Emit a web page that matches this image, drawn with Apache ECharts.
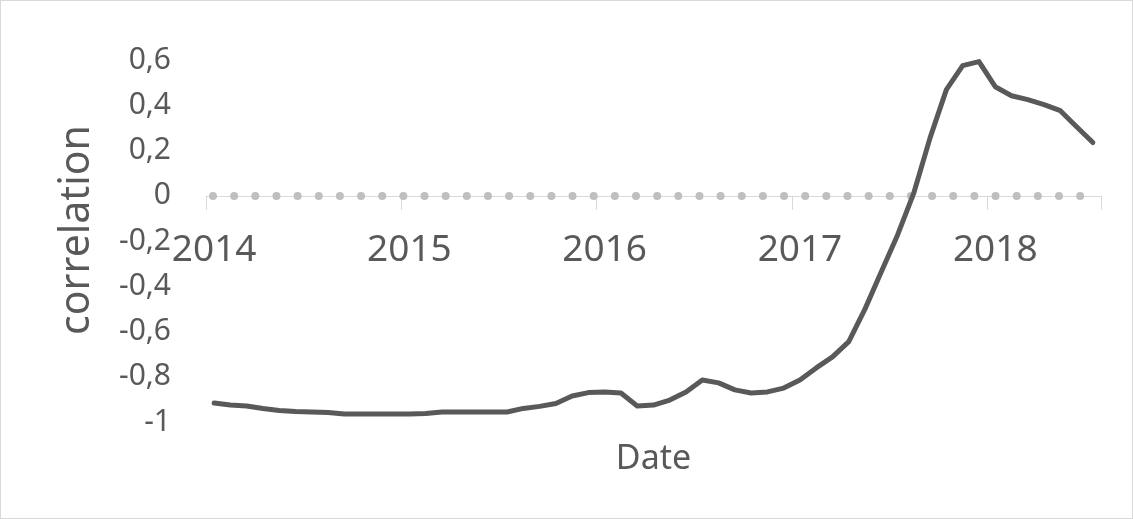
<!DOCTYPE html>
<html>
<head>
<meta charset="utf-8">
<script src="https://cdn.jsdelivr.net/npm/echarts@6/dist/echarts.min.js"></script>
<style>
html,body{margin:0;padding:0;background:#fff;}
#wrap{position:relative;width:1133px;height:519px;}
#chart{position:absolute;left:0;top:0;width:1133px;height:519px;}
#frame{position:absolute;left:0;top:0;width:1133px;height:519px;box-sizing:border-box;border:1px solid #d9d9d9;pointer-events:none;}
</style>
</head>
<body>
<div id="wrap"><div id="chart"></div><div id="frame"></div></div>
<script>
// Monthly observations, Jan 2014 .. Jul 2018
const months = [];
for (let y = 2014; y <= 2018; y++) {
  for (let m = 1; m <= 12; m++) {
    if (y === 2018 && m > 7) break;
    months.push(y + '-' + (m < 10 ? '0' + m : m));
  }
}
const correlation = [
  -0.916, -0.925, -0.929, -0.940, -0.949, -0.954, -0.956, -0.958, -0.965, -0.965, -0.965, -0.965,
  -0.965, -0.962, -0.956, -0.956, -0.956, -0.956, -0.956, -0.940, -0.931, -0.918, -0.885, -0.870,
  -0.867, -0.872, -0.929, -0.925, -0.903, -0.867, -0.814, -0.827, -0.858, -0.872, -0.867, -0.850,
  -0.814, -0.761, -0.712, -0.645, -0.500, -0.336, -0.173, 0.013, 0.257, 0.469, 0.575, 0.593,
  0.482, 0.442, 0.425, 0.403, 0.376, 0.305, 0.235
];
const yTicks = [-1, -0.8, -0.6, -0.4, -0.2, 0, 0.2, 0.4, 0.6];
const xTitle = 'Date';
const yTitle = 'correlation';

const font = '"Noto Sans", "Open Sans", sans-serif';
const chart = echarts.init(document.getElementById('chart'));
chart.setOption({
  backgroundColor: '#ffffff',
  animation: false,
  grid: { left: 206, right: 32, top: 60, bottom: 97, containLabel: false, outerBoundsMode: 'none' },
  xAxis: {
    type: 'category',
    data: months,
    boundaryGap: true,
    axisLine: { onZero: true, lineStyle: { color: '#d9d9d9', width: 1 } },
    axisTick: {
      show: true, length: 14, alignWithLabel: false,
      interval: function (i) { return i % 12 === 0; },
      lineStyle: { color: '#d9d9d9', width: 1 }
    },
    axisLabel: {
      interval: function (i) { return i % 12 === 0; },
      formatter: function (v) { return v.slice(0, 4); },
      color: '#595959', fontFamily: font, fontSize: 37, margin: -190, hideOverlap: false
    },
    splitLine: { show: false },
    name: xTitle,
    nameLocation: 'middle',
    nameGap: 20,
    nameTextStyle: { color: '#595959', fontFamily: font, fontSize: 34, verticalAlign: 'top' }
  },
  yAxis: {
    type: 'value',
    min: yTicks[0],
    max: yTicks[yTicks.length - 1],
    interval: 0.2,
    axisLine: { show: false },
    axisTick: { show: false },
    splitLine: { show: false },
    axisLabel: {
      color: '#595959', fontFamily: font, fontSize: 30, margin: 35, hideOverlap: false,
      showMinLabel: true, showMaxLabel: true,
      formatter: function (v) {
        const r = Math.round(v * 10) / 10;
        return String(r).replace('.', ',');
      }
    },
    name: yTitle,
    nameLocation: 'middle',
    nameRotate: 90,
    nameGap: 108,
    nameTextStyle: { color: '#595959', fontFamily: font, fontSize: 41, padding: [0, 0, 0, 22] }
  },
  series: [{
    type: 'line',
    data: correlation,
    showSymbol: false,
    smooth: false,
    lineStyle: { color: '#595959', width: 5, join: 'round', cap: 'round' },
    z: 3,
    markLine: {
      silent: true,
      symbol: 'none',
      label: { show: false },
      lineStyle: { color: '#bfbfbf', width: 8, type: [0, 21.15], dashOffset: -7, cap: 'round' },
      data: [{ yAxis: 0 }],
      z: 2
    }
  }]
});
</script>
</body>
</html>
